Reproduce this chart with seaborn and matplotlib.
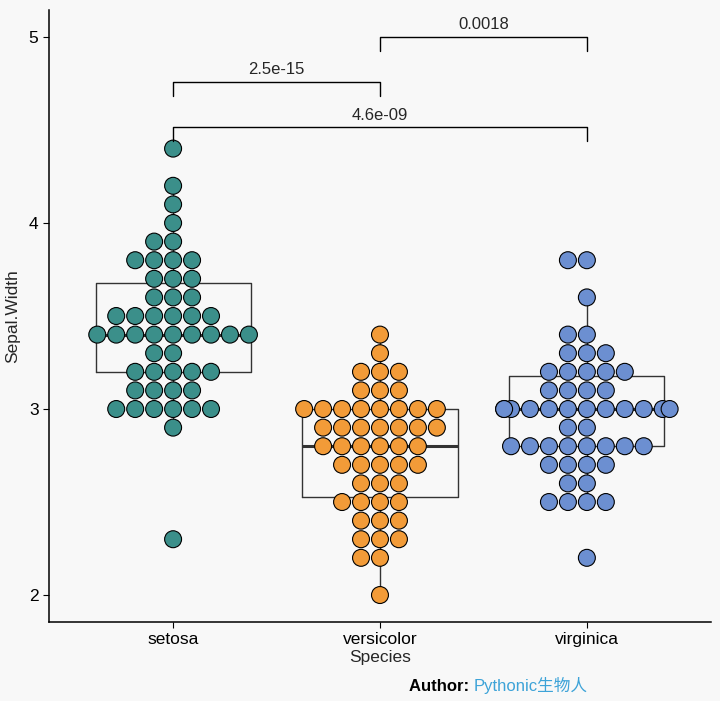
import numpy as np
import pandas as pd
import matplotlib
matplotlib.use("Agg")
import matplotlib.pyplot as plt
import seaborn as sns

# ── data: iris Sepal.Width by species ─────────────────────────────────────────

species = ["setosa", "versicolor", "virginica"]

setosa_sw = [3.5, 3.0, 3.2, 3.1, 3.6, 3.9, 3.4, 3.4, 2.9, 3.1, 3.7, 3.4, 3.0, 3.0, 4.0,
             4.4, 3.9, 3.5, 3.8, 3.8, 3.4, 3.7, 3.6, 3.3, 3.4, 3.0, 3.4, 3.5, 3.4, 3.2,
             3.1, 3.4, 4.1, 4.2, 3.1, 3.2, 3.5, 3.6, 3.0, 3.4, 3.5, 2.3, 3.2, 3.5, 3.8,
             3.0, 3.8, 3.2, 3.7, 3.3]
versicolor_sw = [3.2, 3.2, 3.1, 2.3, 2.8, 2.8, 3.3, 2.4, 2.9, 2.7, 2.0, 3.0, 2.2, 2.9, 2.9,
                 3.1, 3.0, 2.7, 2.2, 2.5, 3.2, 2.8, 2.5, 2.8, 2.9, 3.0, 2.8, 3.0, 2.9, 2.6,
                 2.4, 2.4, 2.7, 2.7, 3.0, 3.4, 3.1, 2.3, 3.0, 2.5, 2.6, 3.0, 2.6, 2.3, 2.7,
                 3.0, 2.9, 2.9, 2.5, 2.8]
virginica_sw = [3.3, 2.7, 3.0, 2.9, 3.0, 3.0, 2.5, 2.9, 2.5, 3.6, 3.2, 2.7, 3.0, 2.5, 2.8,
                3.2, 3.0, 3.8, 2.6, 2.2, 3.2, 2.8, 2.8, 2.7, 3.3, 3.2, 2.8, 3.0, 2.8, 3.0,
                2.8, 3.8, 2.8, 2.8, 2.6, 3.0, 3.4, 3.1, 3.0, 3.1, 3.1, 3.1, 2.7, 3.2, 3.3,
                3.0, 2.5, 3.0, 3.4, 3.0]

# pairwise comparisons: (group a, group b, bracket height, label)
comparisons = [
    ("setosa", "versicolor", 4.76, "2.5e-15"),
    ("versicolor", "virginica", 5.0, "0.0018"),
    ("setosa", "virginica", 4.515, "4.6e-09"),
]

palette = {"setosa": "#3B8F8A", "versicolor": "#F29B38", "virginica": "#6C8FD1"}

df = pd.DataFrame({
    "Species": ["setosa"] * len(setosa_sw) + ["versicolor"] * len(versicolor_sw)
               + ["virginica"] * len(virginica_sw),
    "Sepal.Width": setosa_sw + versicolor_sw + virginica_sw,
})

# ── plot ──────────────────────────────────────────────────────────────────────

sns.set_theme(style="ticks")
plt.rcParams["font.family"] = ["Liberation Sans", "Noto Sans CJK SC", "DejaVu Sans"]
bg = "#F8F8F8"

fig = plt.figure(figsize=(7.2, 7.01), dpi=100, facecolor=bg)
ax = fig.add_axes([0.068, 0.1127, 0.9195, 0.873], facecolor=bg)

sns.boxplot(data=df, x="Species", y="Sepal.Width", order=species, ax=ax,
            width=0.75, fill=False, color="#333333", linewidth=1.0,
            showfliers=False, showcaps=False,
            medianprops={"linewidth": 2.2, "color": "#333333"})

sns.swarmplot(data=df, x="Species", y="Sepal.Width", order=species, ax=ax,
              hue="Species", palette=palette, legend=False,
              size=12.2, edgecolor="black", linewidth=0.8, zorder=3)

# significance brackets
pos = {s: i for i, s in enumerate(species)}
tip = 0.075
for a, b, h, lab in comparisons:
    xa, xb = pos[a], pos[b]
    ax.plot([xa, xa, xb, xb], [h - tip, h, h, h - tip], color="black", lw=1.0,
            zorder=4, clip_on=False)
    ax.text((xa + xb) / 2, h + 0.025, lab, ha="center", va="bottom", fontsize=12)

ax.set_xlim(-0.6, 2.6)
ax.set_ylim(1.855, 5.145)
ax.set_yticks([2, 3, 4, 5])
ax.set_yticklabels(["2", "3", "4", "5"])
ax.tick_params(labelsize=12.5, length=4, width=0.8, color="black", labelcolor="black")
ax.set_xlabel("Species", fontsize=12.5, labelpad=2)
ax.set_ylabel("Sepal.Width", fontsize=12.5, labelpad=6)
sns.despine(ax=ax)
for side in ["left", "bottom"]:
    ax.spines[side].set_color("black")
    ax.spines[side].set_linewidth(1.1)

# author footer
t1 = fig.text(0.568, 0.01, "Author: ", fontsize=12, fontweight="bold", color="black",
              ha="left", va="bottom")
fig.canvas.draw()
bb = t1.get_window_extent().transformed(fig.transFigure.inverted())
fig.text(bb.x1, 0.01, "Pythonic生物人", fontsize=12, color="#3DA3D8",
         ha="left", va="bottom")

fig.savefig("out.png", dpi=100, facecolor=bg)
